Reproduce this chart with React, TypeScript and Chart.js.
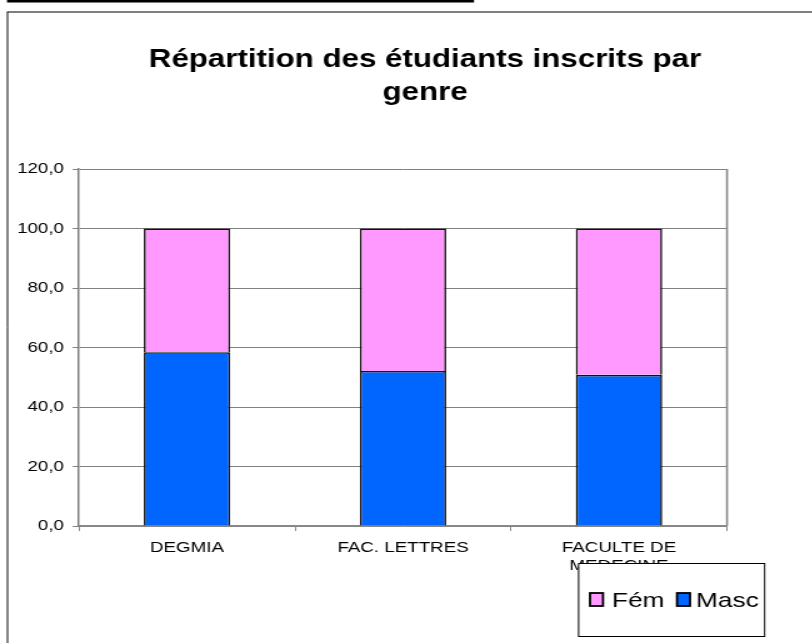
import { useEffect, useRef } from "react";
import { Chart, registerables } from "chart.js";

Chart.register(...registerables);

// ---- data ----
const TITLE_LINES = ["Répartition des étudiants inscrits par", "genre"];
const categories: (string | string[])[] = ["DEGMIA", "FAC. LETTRES", ["FACULTE DE", "MEDECINE"]];
const mascValues = [58.4, 52.1, 50.8];
const femValues = [41.6, 47.9, 49.2];
const yTickLabels = ["0,0", "20,0", "40,0", "60,0", "80,0", "100,0", "120,0"];
const seriesNames = { masc: "Masc", fem: "Fém" };

// ---- layout (internal canvas is stretched horizontally by SX) ----
const SX = 1.25;
const W = 650;
const H = 643;
const FONT = '"Liberation Sans", Arial, Helvetica, sans-serif';

const framePlugin = {
  id: "frame",
  beforeDraw(chart: any) {
    const ctx = chart.ctx;
    ctx.save();
    ctx.fillStyle = "#fff";
    ctx.fillRect(0, 0, W, H);
    // top black rule
    ctx.fillStyle = "#000";
    ctx.fillRect(7 / SX, 0, (474 - 7) / SX, 2.5);
    // outer frame (top + left)
    ctx.strokeStyle = "#7f7f7f";
    ctx.lineWidth = 2;
    ctx.beginPath();
    ctx.moveTo(7 / SX, 12);
    ctx.lineTo(W, 12);
    ctx.stroke();
    ctx.strokeStyle = "#000";
    ctx.lineWidth = 1.2 / SX;
    ctx.beginPath();
    ctx.moveTo(7.5 / SX, 12);
    ctx.lineTo(7.5 / SX, H);
    ctx.stroke();
    ctx.restore();
  },
  afterDatasetsDraw(chart: any) {
    const { ctx, chartArea } = chart;
    ctx.save();
    ctx.strokeStyle = "#8a8a8a";
    ctx.lineWidth = 1.6;
    ctx.beginPath();
    ctx.moveTo(chartArea.right, chartArea.top);
    ctx.lineTo(chartArea.right, chartArea.bottom);
    ctx.stroke();
    ctx.restore();
  },
};

const titlePlugin = {
  id: "customTitle",
  afterDraw(chart: any) {
    const ctx = chart.ctx;
    ctx.save();
    ctx.font = `bold 25px ${FONT}`;
    ctx.fillStyle = "#000";
    ctx.textAlign = "center";
    ctx.textBaseline = "alphabetic";
    TITLE_LINES.forEach((l, i) => ctx.fillText(l, 425 / SX, 67 + i * 33));
    ctx.restore();
  },
};

const legendPlugin = {
  id: "customLegend",
  afterDraw(chart: any) {
    const ctx = chart.ctx;
    ctx.save();
    const x0 = 578 / SX;
    const x1 = 764 / SX;
    const y0 = 563;
    const y1 = 636;
    ctx.fillStyle = "#fff";
    ctx.fillRect(x0, y0, x1 - x0, y1 - y0);
    ctx.strokeStyle = "#000";
    ctx.lineWidth = 1;
    ctx.strokeRect(x0 + 0.5, y0 + 0.5, x1 - x0, y1 - y0);
    const items = [...chart.data.datasets].reverse();
    const boxX = [590 / SX, 677 / SX];
    const textX = [612 / SX, 696 / SX];
    ctx.font = `21px ${FONT}`;
    ctx.textBaseline = "alphabetic";
    ctx.textAlign = "left";
    items.forEach((ds: any, i: number) => {
      const bx = boxX[i];
      ctx.fillStyle = ds.backgroundColor;
      ctx.fillRect(bx, 593, 13 / SX, 13);
      ctx.strokeStyle = "#000";
      ctx.lineWidth = 1.8;
      ctx.strokeRect(bx, 593, 13 / SX, 13);
      ctx.fillStyle = "#000";
      ctx.fillText(ds.label, textX[i], 607);
    });
    ctx.restore();
  },
};

export default function App() {
  const ref = useRef<HTMLCanvasElement>(null);
  useEffect(() => {
    if (!ref.current) return;
    const chart = new Chart(ref.current, {
      type: "bar",
      data: {
        labels: categories as any,
        datasets: [
          {
            label: seriesNames.masc,
            data: mascValues,
            backgroundColor: "#0066ff",
            borderColor: "#111",
            borderWidth: 1.6,
            barPercentage: 0.4,
            categoryPercentage: 1,
          },
          {
            label: seriesNames.fem,
            data: femValues,
            backgroundColor: "#ff99ff",
            borderColor: "#111",
            borderWidth: 1.6,
            barPercentage: 0.4,
            categoryPercentage: 1,
          },
        ],
      },
      options: {
        responsive: false,
        animation: false,
        devicePixelRatio: 1,
        layout: { padding: { left: 0, right: W - 727 / SX, top: 169, bottom: 0 } },
        plugins: {
          legend: { display: false },
          title: { display: false },
          tooltip: { enabled: false },
        },
        scales: {
          x: {
            stacked: true,
            afterFit: (s: any) => {
              s.height = H - 526;
            },
            grid: {
              offset: true,
              drawOnChartArea: false,
              color: "#8a8a8a",
              tickLength: 5,
            },
            border: { color: "#8a8a8a", width: 1.5 },
            ticks: {
              color: "#000",
              font: { family: FONT, size: 15 },
              padding: 8,
              maxRotation: 0,
              autoSkip: false,
            },
          },
          y: {
            stacked: true,
            min: 0,
            max: 120,
            afterFit: (s: any) => {
              s.width = 79 / SX;
            },
            grid: { color: "#808080", tickLength: 5 },
            border: { color: "#808080", width: 1.5 },
            ticks: {
              stepSize: 20,
              color: "#000",
              font: { family: FONT, size: 15 },
              padding: 7,
              callback: (_v: any, i: number) => yTickLabels[i],
            },
          },
        },
      },
      plugins: [framePlugin, titlePlugin, legendPlugin],
    });
    return () => chart.destroy();
  }, []);
  return (
    <canvas
      ref={ref}
      width={W}
      height={H}
      style={{
        position: "fixed",
        left: 0,
        top: 0,
        width: W,
        height: H,
        transform: `scaleX(${SX})`,
        transformOrigin: "0 0",
      }}
    />
  );
}
